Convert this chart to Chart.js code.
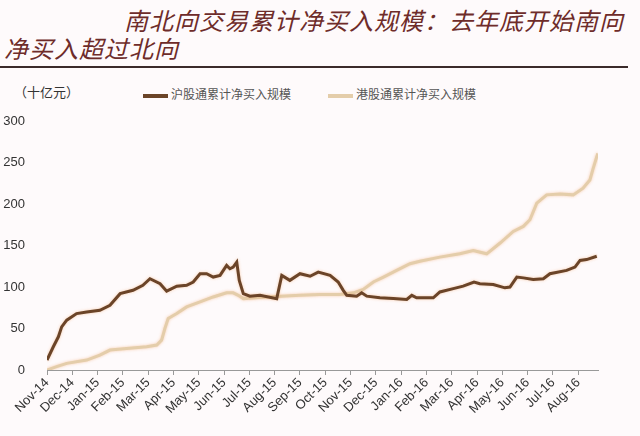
<!DOCTYPE html>
<html>
<head>
<meta charset="utf-8">
<script src="https://cdn.jsdelivr.net/npm/chart.js@4"></script>
<style>
  body { margin: 0; background: #fefafb; }
  #wrap { position: relative; width: 640px; height: 436px; overflow: hidden; }
  .title { position: absolute; font-family: "Noto Sans CJK SC", sans-serif; font-style: italic;
           font-size: 24px; letter-spacing: 1px; color: #6e2c2a; white-space: nowrap; line-height: 1; }
  #rule { position: absolute; left: 0; top: 66px; width: 628px; height: 2px; background: #3b2a2a; }
  #unit { position: absolute; left: 14px; top: 82px; font-family: "Noto Sans CJK SC", sans-serif;
          font-size: 13px; color: #333; }
  .leg { position: absolute; top: 85px; font-family: "Noto Sans CJK SC", sans-serif; font-size: 12px; color: #555; }
  .sw { display: inline-block; width: 25px; height: 4px; vertical-align: middle; margin-right: 3px; }
  canvas { position: absolute; left: 0; top: 0; }
</style>
</head>
<body>
<div id="wrap">
  <div class="title" style="left:124px; top:8px;">南北向交易累计净买入规模：去年底开始南向</div>
  <div class="title" style="left:4px; top:36px;">净买入超过北向</div>
  <div id="rule"></div>
  <div id="unit">（十亿元）</div>
  <div id="legend"></div>
  <canvas id="chart" width="640" height="436"></canvas>
</div>
<script>
// month labels on the x axis, 0 = Nov-14
const monthLabels = ['Nov-14','Dec-14','Jan-15','Feb-15','Mar-15','Apr-15','May-15','Jun-15','Jul-15','Aug-15','Sep-15',
    'Oct-15','Nov-15','Dec-15','Jan-16','Feb-16','Mar-16','Apr-16','May-16','Jun-16','Jul-16','Aug-16'];

// 沪股通 (northbound)
const shMonths = [0,0.25,0.45,0.58,0.78,1.17,1.57,2.09,2.49,2.89,3.40,3.79,4.07,4.47,4.73,5.13,5.52,5.78,6.05,6.31,
    6.57,6.84,7.10,7.23,7.36,7.50,7.60,7.76,8.02,8.42,9.08,9.28,9.60,10.0,10.40,10.72,11.19,11.51,11.71,11.85,
    12.24,12.44,12.64,13.16,13.69,14.22,14.42,14.61,15.27,15.53,16.06,16.45,16.88,17.11,17.64,18.10,18.30,18.57,
    18.83,19.22,19.62,19.88,20.54,20.87,21.07,21.33,21.73];
const shValues = [12,28,40,52,60,68,70,72,78,92,96,102,110,104,95,101,102,106,116,116,
    112,114,126,122,124,130,108,92,89,90,86,114,108,116,113,118,114,106,96,90,
    89,93,89,87,86,85,90,87,87,94,98,101,106,104,103,99,100,112,
    111,109,110,116,120,124,132,133,137];

// 港股通 (southbound)
const hkMonths = [0,0.38,0.78,1.57,2.09,2.49,3.15,3.94,4.34,4.53,4.66,4.79,5.13,5.52,6.05,6.57,7.10,7.36,7.56,7.76,
    8.68,10.0,10.79,11.58,12.11,12.50,12.90,13.30,13.82,14.35,14.74,15.53,16.32,16.85,17.38,17.91,18.43,18.83,
    19.09,19.36,19.75,20.28,20.80,21.19,21.46,21.59,21.77];
const hkValues = [0,4,8,12,18,24,26,28,30,36,50,62,68,76,82,88,93,93,90,86,
    88,90,91,91,93,97,106,112,120,128,131,136,140,144,140,153,167,173,
    181,201,211,212,211,219,229,243,261];

const yTicks = [0, 50, 100, 150, 200, 250, 300];

const series = [
    { label: '沪股通累计净买入规模', months: shMonths, values: shValues, color: '#6b4428', left: 143 },
    { label: '港股通累计净买入规模', months: hkMonths, values: hkValues, color: '#e4cdaa', left: 328 }
];

// legend in html
const legendEl = document.getElementById('legend');
series.forEach(s => {
    const d = document.createElement('div');
    d.className = 'leg';
    d.style.left = s.left + 'px';
    d.innerHTML = `<span class="sw" style="background:${s.color}"></span>${s.label}`;
    legendEl.appendChild(d);
});

// soft orange halo around lines, as in the picture
const glow = {
    id: 'glow',
    beforeDatasetDraw(chart) {
        chart.ctx.save();
        chart.ctx.shadowColor = 'rgba(240,150,80,0.45)';
        chart.ctx.shadowBlur = 3;
    },
    afterDatasetDraw(chart) { chart.ctx.restore(); }
};

new Chart(document.getElementById('chart'), {
    type: 'line',
    data: {
        datasets: series.map(s => ({
            label: s.label,
            data: s.months.map((m, i) => ({ x: m, y: s.values[i] })),
            borderColor: s.color,
            borderWidth: 3,
            pointRadius: 0,
            tension: 0,
            fill: false
        }))
    },
    options: {
        responsive: false,
        animation: false,
        layout: { padding: { top: 121, right: 42, left: 0, bottom: 0 } },
        plugins: { legend: { display: false }, tooltip: { enabled: false } },
        scales: {
            x: {
                type: 'linear',
                min: 0,
                max: 21.78,
                afterFit: (s) => { s.height = 66; },
                grid: { drawOnChartArea: false, drawTicks: true, tickLength: 5, color: '#999' },
                border: { display: true, color: '#999', width: 1 },
                ticks: {
                    stepSize: 1,
                    includeBounds: false,
                    autoSkip: false,
                    maxRotation: 45,
                    minRotation: 45,
                    padding: 0,
                    color: '#333',
                    font: { family: 'Liberation Sans', size: 13 },
                    callback: (v) => monthLabels[v] || ''
                }
            },
            y: {
                min: 0,
                max: 300,
                afterFit: (s) => { s.width = 47; },
                afterBuildTicks: (s) => { s.ticks = yTicks.map(v => ({ value: v })); },
                grid: { display: false },
                border: { display: false },
                ticks: {
                    padding: 14,
                    color: '#333',
                    font: { family: 'Liberation Sans', size: 13 }
                }
            }
        }
    },
    plugins: [glow]
});
</script>
</body>
</html>
